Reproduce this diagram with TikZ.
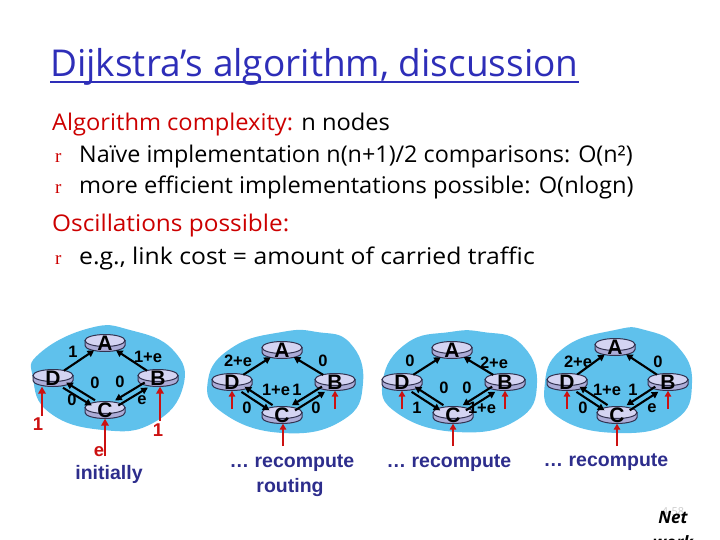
\documentclass[tikz,border=0pt]{standalone}
\usepackage{fontspec}
\setmainfont{Open Sans}
\newfontfamily\arialf{Liberation Sans}
\newfontfamily\serf{Liberation Serif}
\usetikzlibrary{arrows.meta,calc,shapes.geometric}
\definecolor{tblue}{RGB}{46,46,184}
\definecolor{tred}{RGB}{204,0,0}
\definecolor{blobc}{RGB}{95,193,236}
\definecolor{rtopc}{RGB}{212,212,242}
\definecolor{rbodyc}{RGB}{172,172,215}
\definecolor{rline}{RGB}{50,50,80}
\definecolor{capblue}{RGB}{45,45,140}
\definecolor{arrred}{RGB}{204,17,17}
\newcommand\rtr[4]{%
  \filldraw[rbody] (#2-20,#3-2.5) -- (#2-20,#3+2.5) arc[start angle=180,end angle=0,x radius=20,y radius=6] -- (#2+20,#3-2.5) -- cycle;
  \filldraw[rtop] (#2,#3-2.5) ellipse[x radius=20,y radius=6];
  \node[rnode,label={[rlet]center:#4}] (#1) at (#2,#3) {};
}
\newcommand\netw[9]{%
  \rtr{#1A}{#2}{#3}{A}\rtr{#1D}{#4}{#5}{D}\rtr{#1B}{#6}{#7}{B}\rtr{#1C}{#8}{#9}{C}
  \draw[edge] (#1D) -- (#1A);
  \draw[edge] (#1B) -- (#1A);
  \draw[edge,transform canvas={xshift=1.6pt,yshift=2.6pt}] (#1C) -- (#1D);
  \draw[edge,transform canvas={xshift=-1.6pt,yshift=-2.6pt}] (#1D) -- (#1C);
  \draw[edge,transform canvas={xshift=-1.55pt,yshift=2.57pt}] (#1B) -- (#1C);
  \draw[edge,transform canvas={xshift=1.55pt,yshift=-2.57pt}] (#1C) -- (#1B);
}
\begin{document}
\begin{tikzpicture}[x=1pt,y=-1pt,
  rtop/.style={fill=rtopc,draw=rline,line width=1pt},
  rbody/.style={fill=rbodyc,draw=rline,line width=1pt},
  rnode/.style={ellipse,minimum width=40pt,minimum height=17pt,inner sep=0pt},
  rlet/.style={font=\arialf\bfseries\fontsize{21}{21}\selectfont,inner sep=0pt},
  lab/.style={font=\arialf\bfseries\fontsize{16.5}{16.5}\selectfont,inner sep=0pt},
  rlab/.style={font=\arialf\bfseries\fontsize{18.5}{18.5}\selectfont,inner sep=0pt,text=arrred},
  captxt/.style={font=\arialf\bfseries\fontsize{19.5}{19.5}\selectfont,inner sep=0pt,text=capblue},
  edge/.style={draw=black,line width=2.1pt,-{Triangle[length=6.5pt,width=7pt]}},
  redarr/.style={draw=arrred,line width=2.8pt,-{Triangle[length=7pt,width=7.5pt]}},
  redarrs/.style={draw=arrred,line width=2.3pt,-{Triangle[length=6pt,width=6.5pt]}},
  body/.style={anchor=base west,inner sep=0pt,font=\fontsize{23}{27}\selectfont},
  bul/.style={anchor=base west,inner sep=0pt,font=\serf\fontsize{19}{24}\selectfont,text=tred},
  blob/.style={fill=blobc}
]
\useasboundingbox (0,0) rectangle (720,540);
% title
\node[anchor=base west,inner sep=0pt,text=tblue,font=\fontsize{37}{37}\selectfont] (title) at (50,77) {Dijkstra’s algorithm, discussion};
\draw[tblue,line width=2pt] ([yshift=-5pt]title.base west) -- ([yshift=-5pt]title.base east);
% body
\node[body] (t1) at (52,131) {\scalebox{1.03}[1]{\textcolor{tred}{Algorithm complexity:} n nodes}};
\node[bul] (b2) at (55,163) {r};
\node[body] (t2) at (79,163) {\scalebox{1.015}[1]{Naïve implementation n(n+1)/2 comparisons: O(n²)}};
\node[bul] (b3) at (55,194) {r};
\node[body] (t3) at (79,194) {\scalebox{1.03}[1]{more efficient implementations possible: O(nlogn)}};
\node[body,text=tred] (t4) at (52,232) {\scalebox{1.06}[1]{Oscillations possible:}};
\node[bul] (b5) at (55,264) {r};
\node[body] (t5) at (79,264) {\scalebox{1.075}[1]{e.g., link cost = amount of carried traffic}};
% blobs
\fill[blob] plot[smooth cycle,tension=0.8] coordinates {(90,328) (130,330) (173,350) (183,387) (153,423) (103,430) (50,413) (33,378) (40,353)};
\fill[blob] plot[smooth cycle,tension=0.8] coordinates {(282,332) (317,332) (350,343) (363,383) (343,420) (283,433) (223,413) (208,380) (233,347)};
\fill[blob] plot[smooth cycle,tension=0.8] coordinates {(450,332) (483,332) (520,343) (537,383) (517,420) (457,432) (397,413) (383,380) (407,343)};
\fill[blob] plot[smooth cycle,tension=0.8] coordinates {(615,330) (645,330) (678,347) (692,383) (675,420) (618,433) (558,417) (545,382) (565,347)};
% networks
\netw{a}{105}{343}{53}{378}{158}{378}{105}{410}
\netw{b}{282}{350}{232}{382}{335}{382}{282}{415}
\netw{c}{452}{350}{402}{382}{505}{382}{453}{415}
\netw{d}{615}{347}{567}{382}{668}{382}{617}{415}
% labels net 1
\node[lab] (a1) at (73,352) {1};
\node[lab] (a2) at (148,357) {1+e};
\node[lab] (a3) at (95,383) {0};
\node[lab] (a4) at (120,382) {0};
\node[lab] (a5) at (72,400) {0};
\node[lab] (a6) at (142,400) {e};
% labels net 2
\node[lab] (b1) at (238,361) {2+e};
\node[lab] (b2l) at (323,361) {0};
\node[lab] (b3l) at (276,390) {1+e};
\node[lab] (b4) at (297,390) {1};
\node[lab] (b5l) at (247,408) {0};
\node[lab] (b6) at (316,408) {0};
% labels net 3
\node[lab] (c1) at (410,361) {0};
\node[lab] (c2) at (494,363) {2+e};
\node[lab] (c3) at (444,388) {0};
\node[lab] (c4) at (467,388) {0};
\node[lab] (c5) at (417,408) {1};
\node[lab] (c6) at (482,408) {1+e};
% labels net 4
\node[lab] (d1) at (578,362) {2+e};
\node[lab] (d2) at (658,362) {0};
\node[lab] (d3) at (607,390) {1+e};
\node[lab] (d4) at (633,390) {1};
\node[lab] (d5) at (583,408) {0};
\node[lab] (d6) at (652,408) {e};
% red arrows net 1
\coordinate (afD) at (42,416);
\coordinate (afB) at (160,421);
\coordinate (afC) at (105,456);
\draw[redarr] (afD) -- (afD |- aD.south);
\draw[redarr] (afB) -- (afB |- aB.south);
\draw[redarr] (afC) -- (aC.south);
\node[rlab] (ar1) at (38,424) {1};
\node[rlab] (ar2) at (158,430) {1};
\node[rlab] (ar3) at (99,452) {e};
\node[captxt] (acap) at (109,474) {initially};
% red arrows nets 2-4
\coordinate (bfD) at (232,409); \coordinate (bfB) at (335,409); \coordinate (bfC) at (283,446);
\draw[redarrs] (bfD) -- (bD.south); \draw[redarrs] (bfB) -- (bB.south); \draw[redarrs] (bfC) -- (bfC |- bC.south);
\coordinate (cfD) at (402,409); \coordinate (cfB) at (505,409); \coordinate (cfC) at (453,446);
\draw[redarrs] (cfD) -- (cD.south); \draw[redarrs] (cfB) -- (cB.south); \draw[redarrs] (cfC) -- (cC.south);
\coordinate (dfD) at (567,409); \coordinate (dfB) at (668,409); \coordinate (dfC) at (617,446);
\draw[redarrs] (dfD) -- (dD.south); \draw[redarrs] (dfB) -- (dB.south); \draw[redarrs] (dfC) -- (dC.south);
\node[captxt] (bcap) at (292,463) {… recompute};
\node[captxt] (bcap2) at (290,487) {routing};
\node[captxt] (ccap) at (449,463) {… recompute};
\node[captxt] (dcap) at (606,462) {… recompute};
% footer
\node[inner sep=0pt,text=black!20,font=\fontsize{11}{11}\selectfont] (pg) at (673,512) {4-58};
\node[inner sep=0pt,font=\bfseries\itshape\fontsize{17}{17}\selectfont] (net) at (673,518) {Net};
\node[inner sep=0pt,font=\bfseries\itshape\fontsize{17}{17}\selectfont] (wrk) at (673,542) {work};
\end{tikzpicture}
\end{document}
